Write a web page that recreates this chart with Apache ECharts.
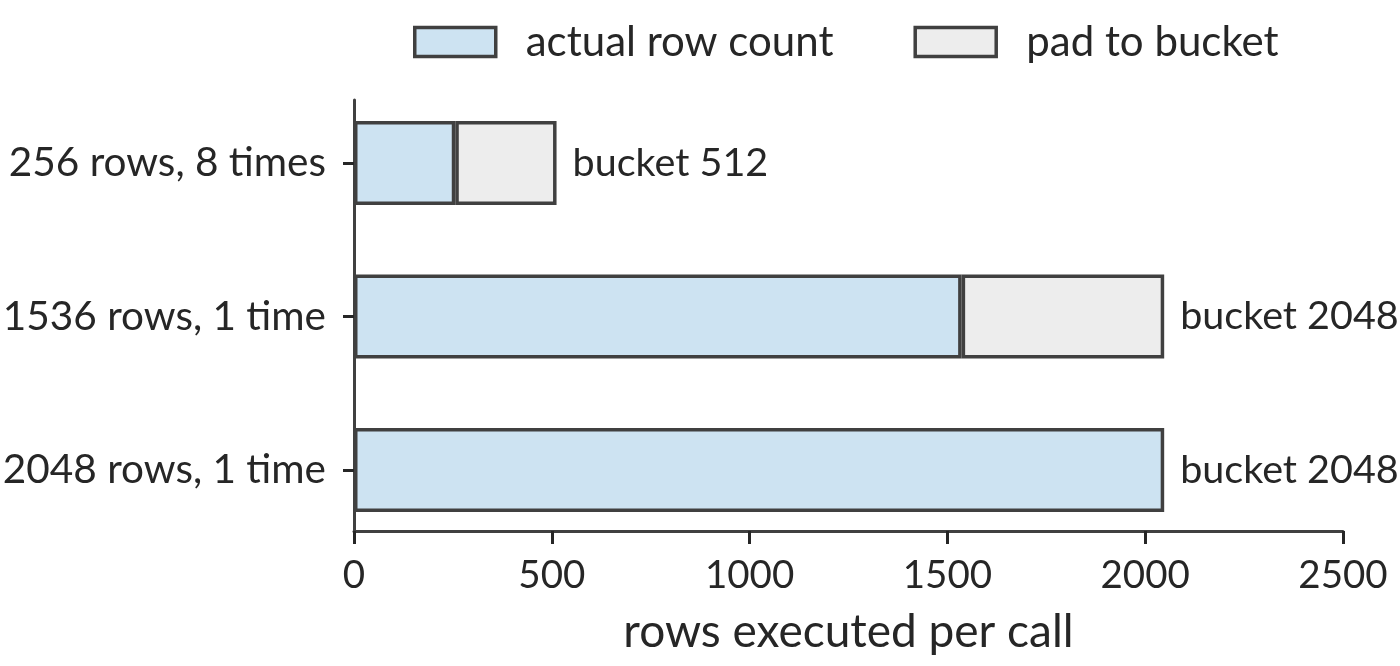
<!DOCTYPE html>
<html><head><meta charset="utf-8">
<script src="https://cdn.jsdelivr.net/npm/echarts@6/dist/echarts.min.js"></script>
<style>html,body{margin:0;padding:0;background:#fff}#c{width:1400px;height:666px}</style>
</head><body><div id="c"></div>
<script>
const categories = ['256 rows, 8 times', '1536 rows, 1 time', '2048 rows, 1 time'];
const actualRows = [256, 1536, 2048];
const padRows = [256, 512, 0];
const bucketLabels = ['bucket 512', 'bucket 2048', 'bucket 2048'];
const xTicks = {min: 0, max: 2500, interval: 500};

const FONT = 'Lato';
const DARK = '#262626';
const EDGE = '#404040';

const chart = echarts.init(document.getElementById('c'), null, {renderer: 'canvas'});
chart.setOption({
  animation: false,
  textStyle: {fontFamily: FONT},
  legend: {
    top: 16, left: 408,
    itemWidth: 81, itemHeight: 29, itemGap: 80,
    icon: 'rect',
    itemStyle: {borderWidth: 3.5, borderColor: EDGE},
    textStyle: {fontFamily: FONT, fontSize: 42, color: DARK, padding: [0, 0, 0, 25]},
    data: ['actual row count', 'pad to bucket']
  },
  grid: [
    {left: 354, right: 57, top: 100, height: 431, containLabel: false, outerBoundsMode: 'none'},
    {left: 354, right: 57, top: 86.25, height: 460.5, containLabel: false, outerBoundsMode: 'none'}
  ],
  xAxis: [
    {
      gridIndex: 0, type: 'value', min: xTicks.min, max: xTicks.max, interval: xTicks.interval,
      axisLine: {show: true, lineStyle: {color: EDGE, width: 3}},
      axisTick: {show: true, length: 13, lineStyle: {color: DARK, width: 3}},
      axisLabel: {fontFamily: FONT, fontSize: 38.5, color: DARK, margin: 25, formatter: v => String(v)},
      splitLine: {show: false},
      name: 'rows executed per call', nameLocation: 'middle', nameGap: 78,
      nameTextStyle: {fontFamily: FONT, fontSize: 46, color: DARK}
    },
    {
      gridIndex: 1, type: 'value', min: xTicks.min, max: xTicks.max,
      show: false
    }
  ],
  yAxis: [
    {
      gridIndex: 0, type: 'value', min: 0, max: 1,
      axisLine: {show: true, lineStyle: {color: EDGE, width: 3}},
      axisTick: {show: false}, axisLabel: {show: false}, splitLine: {show: false}
    },
    {
      gridIndex: 1, type: 'category', data: categories, inverse: true,
      axisLine: {show: false},
      axisTick: {show: true, alignWithLabel: true, length: 11, lineStyle: {color: DARK, width: 3}},
      axisLabel: {fontFamily: FONT, fontSize: 40.5, color: DARK, margin: 28},
      splitLine: {show: false}
    }
  ],
  series: [
    {
      name: 'actual row count', type: 'bar', stack: 'rows',
      xAxisIndex: 1, yAxisIndex: 1, barWidth: 84,
      itemStyle: {color: '#cde3f2', borderColor: EDGE, borderWidth: 3.5},
      data: actualRows
    },
    {
      name: 'pad to bucket', type: 'bar', stack: 'rows',
      xAxisIndex: 1, yAxisIndex: 1, barWidth: 84,
      itemStyle: {color: '#ededed', borderColor: EDGE, borderWidth: 3.5},
      label: {
        show: true, position: 'right', distance: 16,
        fontFamily: FONT, fontSize: 39.5, color: DARK,
        formatter: p => bucketLabels[p.dataIndex]
      },
      data: padRows.map(v => v === 0 ? {value: v, itemStyle: {borderWidth: 0}} : v)
    }
  ]
});
</script></body></html>
